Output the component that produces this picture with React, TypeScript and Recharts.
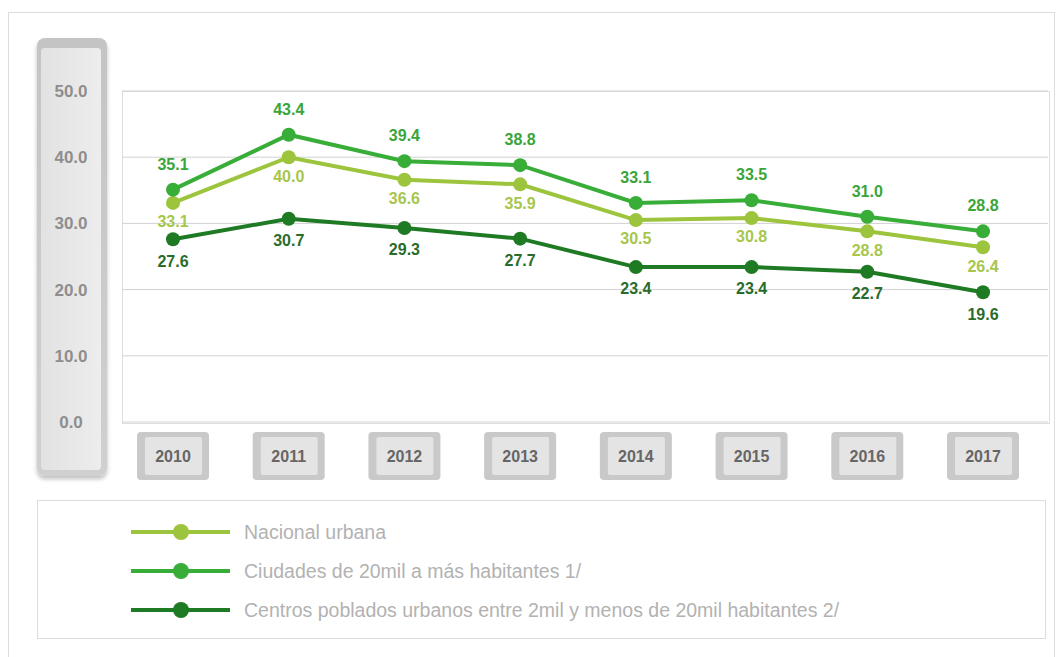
import { LineChart, Line, XAxis, YAxis, CartesianGrid, LabelList } from "recharts";

const years = ["2010", "2011", "2012", "2013", "2014", "2015", "2016", "2017"];
const nacionalUrbana = [33.1, 40.0, 36.6, 35.9, 30.5, 30.8, 28.8, 26.4];
const ciudades20mil = [35.1, 43.4, 39.4, 38.8, 33.1, 33.5, 31.0, 28.8];
const centrosPoblados = [27.6, 30.7, 29.3, 27.7, 23.4, 23.4, 22.7, 19.6];
const yTicks = [0, 10, 20, 30, 40, 50];

const FONT = '"Liberation Sans", Arial, sans-serif';

const series = [
  {
    key: "nacional",
    name: "Nacional urbana",
    color: "#9cc43c",
    labelColor: "#a6c64c",
    labelPos: "bottom" as const,
    labelOffset: 13,
  },
  {
    key: "ciudades",
    name: "Ciudades de 20mil a más habitantes 1/",
    color: "#38ad38",
    labelColor: "#3aa53a",
    labelPos: "top" as const,
    labelOffset: 20,
  },
  {
    key: "centros",
    name: "Centros poblados urbanos entre 2mil y menos de 20mil habitantes 2/",
    color: "#1f7a24",
    labelColor: "#2a6c2c",
    labelPos: "bottom" as const,
    labelOffset: 16,
  },
];

const data = years.map((year, i) => ({
  year,
  nacional: nacionalUrbana[i],
  ciudades: ciudades20mil[i],
  centros: centrosPoblados[i],
}));

const YearTick = ({ x, y, payload }: any) => (
  <g transform={`translate(${x},${y})`}>
    <rect x={-36} y={2} width={72} height={48} rx={4} fill="#c9c9c9" />
    <rect x={-28} y={7} width={57} height={38} rx={2} fill="#e4e4e4" />
    <text
      x={0}
      y={32}
      textAnchor="middle"
      fontFamily={FONT}
      fontWeight="bold"
      fontSize={16}
      fill="#666"
    >
      {payload.value}
    </text>
  </g>
);

const ValueTick = ({ y, payload }: any) => (
  <text
    x={71}
    y={y + 6}
    textAnchor="middle"
    fontFamily={FONT}
    fontWeight="bold"
    fontSize={17}
    fill="#8e8e8e"
  >
    {payload.value.toFixed(1)}
  </text>
);

export default function App() {
  return (
    <div
      style={{
        position: "absolute",
        left: 0,
        top: 0,
        width: 1062,
        height: 657,
        background: "#fff",
        fontFamily: FONT,
        overflow: "hidden",
      }}
    >
      {/* outer frame */}
      <div
        style={{
          position: "absolute",
          left: 8,
          top: 12,
          width: 1045,
          height: 660,
          border: "1px solid #dcdcdc",
        }}
      />
      {/* y axis panel */}
      <div
        style={{
          position: "absolute",
          left: 37,
          top: 38,
          width: 70,
          height: 438,
          borderRadius: 8,
          background: "linear-gradient(to bottom, #c4c4c4, #d0d0d0)",
          boxShadow: "0 3px 4px rgba(0,0,0,0.25)",
        }}
      >
        <div
          style={{
            position: "absolute",
            left: 4,
            top: 10,
            right: 6,
            bottom: 6,
            borderRadius: 4,
            background: "linear-gradient(to right, #e2e2e2, #ededed)",
          }}
        />
      </div>
      {/* plot background */}
      <div
        style={{
          position: "absolute",
          left: 122,
          top: 91,
          width: 926,
          height: 331,
          border: "1px solid #dedede",
          background: "#fff",
        }}
      />
      <div style={{ position: "absolute", left: 0, top: 0 }}>
        <LineChart
          width={1062}
          height={657}
          data={data}
          margin={{ top: 91, right: 14, left: 62, bottom: 175 }}
        >
          <CartesianGrid vertical={false} stroke="#d2d2d2" />
          <XAxis
            dataKey="year"
            axisLine={false}
            tickLine={false}
            height={60}
            padding={{ left: 51, right: 65 }}
            tick={<YearTick />}
            interval={0}
          />
          <YAxis
            domain={[0, 50]}
            ticks={yTicks}
            width={60}
            axisLine={false}
            tickLine={false}
            tick={<ValueTick />}
          />
          {series.map((s) => (
            <Line
              key={s.key}
              dataKey={s.key}
              name={s.name}
              type="linear"
              stroke={s.color}
              strokeWidth={4}
              dot={{ r: 7, fill: s.color, stroke: s.color, strokeWidth: 0 }}
              isAnimationActive={false}
            >
              <LabelList
                dataKey={s.key}
                position={s.labelPos}
                offset={s.labelOffset}
                formatter={(v: any) => Number(v).toFixed(1)}
                fill={s.labelColor}
                fontFamily={FONT}
                fontWeight="bold"
                fontSize={16}
              />
            </Line>
          ))}
        </LineChart>
      </div>
      {/* legend */}
      <div
        style={{
          position: "absolute",
          left: 37,
          top: 500,
          width: 1007,
          height: 137,
          border: "1px solid #dcdcdc",
          background: "#fff",
        }}
      >
        {series.map((s, i) => (
          <div
            key={s.key}
            style={{
              position: "absolute",
              left: 93,
              top: 19 + i * 39,
              height: 24,
              display: "flex",
              alignItems: "center",
            }}
          >
            <svg width={100} height={20}>
              <line x1={0} y1={10} x2={99} y2={10} stroke={s.color} strokeWidth={4} />
              <circle cx={50} cy={10} r={8} fill={s.color} />
            </svg>
            <span
              style={{
                marginLeft: 13,
                fontSize: 19.5,
                color: "#b2b2b2",
                whiteSpace: "nowrap",
              }}
            >
              {s.name}
            </span>
          </div>
        ))}
      </div>
    </div>
  );
}
